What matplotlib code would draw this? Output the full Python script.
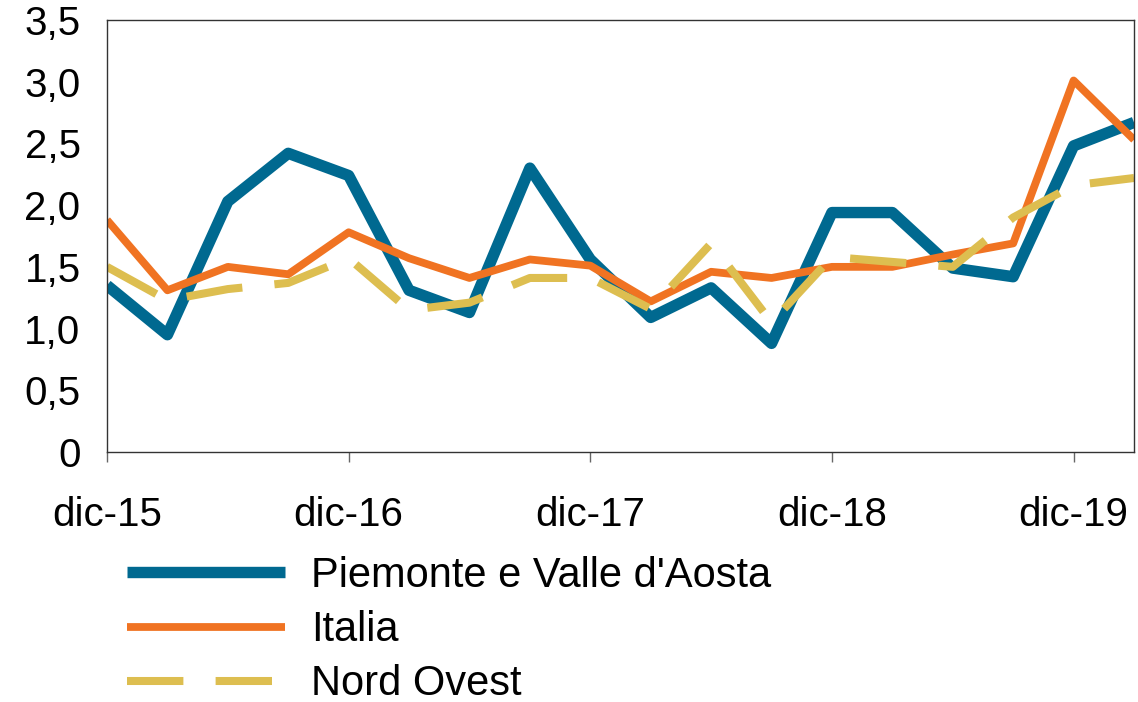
import matplotlib
matplotlib.use("Agg")
import matplotlib.pyplot as plt
import numpy as np

plt.rcParams['font.family'] = ['Liberation Sans', 'DejaVu Sans']

categories = ["dic-15", "mar-16", "giu-16", "set-16", "dic-16", "mar-17", "giu-17", "set-17",
              "dic-17", "mar-18", "giu-18", "set-18", "dic-18", "mar-19", "giu-19", "set-19",
              "dic-19", "mar-20"]
piemonte = [1.35, 0.95, 2.03, 2.42, 2.24, 1.31, 1.13, 2.30, 1.56, 1.09, 1.33, 0.88,
            1.94, 1.94, 1.49, 1.42, 2.48, 2.67]
italia = [1.88, 1.31, 1.50, 1.44, 1.78, 1.57, 1.41, 1.56, 1.51, 1.22, 1.46, 1.41,
          1.50, 1.50, 1.60, 1.69, 3.01, 2.53]
nord_ovest = [1.50, 1.23, 1.32, 1.37, 1.57, 1.15, 1.21, 1.41, 1.41, 1.16, 1.69, 1.05,
              1.58, 1.54, 1.50, 1.90, 2.16, 2.22]
y_ticks = [0, 0.5, 1.0, 1.5, 2.0, 2.5, 3.0, 3.5]
y_labels = ["0", "0,5", "1,0", "1,5", "2,0", "2,5", "3,0", "3,5"]

W, H = 1138, 702
fig = plt.figure(figsize=(W / 100, H / 100), dpi=100)
ax = fig.add_axes([107 / W, 1 - 452 / H, (1134 - 107) / W, (452 - 20) / H])

x = np.arange(len(categories))
ax.plot(x, piemonte, color="#006990", lw=8.2, solid_capstyle="butt",
        label="Piemonte e Valle d'Aosta")
ax.plot(x, italia, color="#F07322", lw=5.6, solid_capstyle="butt", label="Italia")
ax.plot(x, nord_ovest, color="#DDBE50", lw=5.8, dashes=(7, 4), dash_capstyle="butt",
        label="Nord Ovest")

ax.set_xlim(0, len(categories) - 1)
ax.set_ylim(0, 3.5)
tick_idx = [i for i, c in enumerate(categories) if c.startswith("dic")]
ax.set_xticks(tick_idx)
ax.set_xticklabels([categories[i] for i in tick_idx])
ax.set_yticks(y_ticks)
ax.set_yticklabels(y_labels)

for s in ax.spines.values():
    s.set_color("#333333")
    s.set_linewidth(1.0)
ax.tick_params(axis="x", direction="out", length=7, width=1, color="#666666",
               pad=25, labelsize=29)
ax.tick_params(axis="y", length=0, pad=19, labelsize=29)

leg = fig.legend(loc="upper left", bbox_to_anchor=(127 / W, 1 - 556 / H),
                 frameon=False, fontsize=30, handlelength=3.8, handletextpad=0.62,
                 labelspacing=0.34, borderpad=0, borderaxespad=0)

fig.savefig("out.png", dpi=100)
